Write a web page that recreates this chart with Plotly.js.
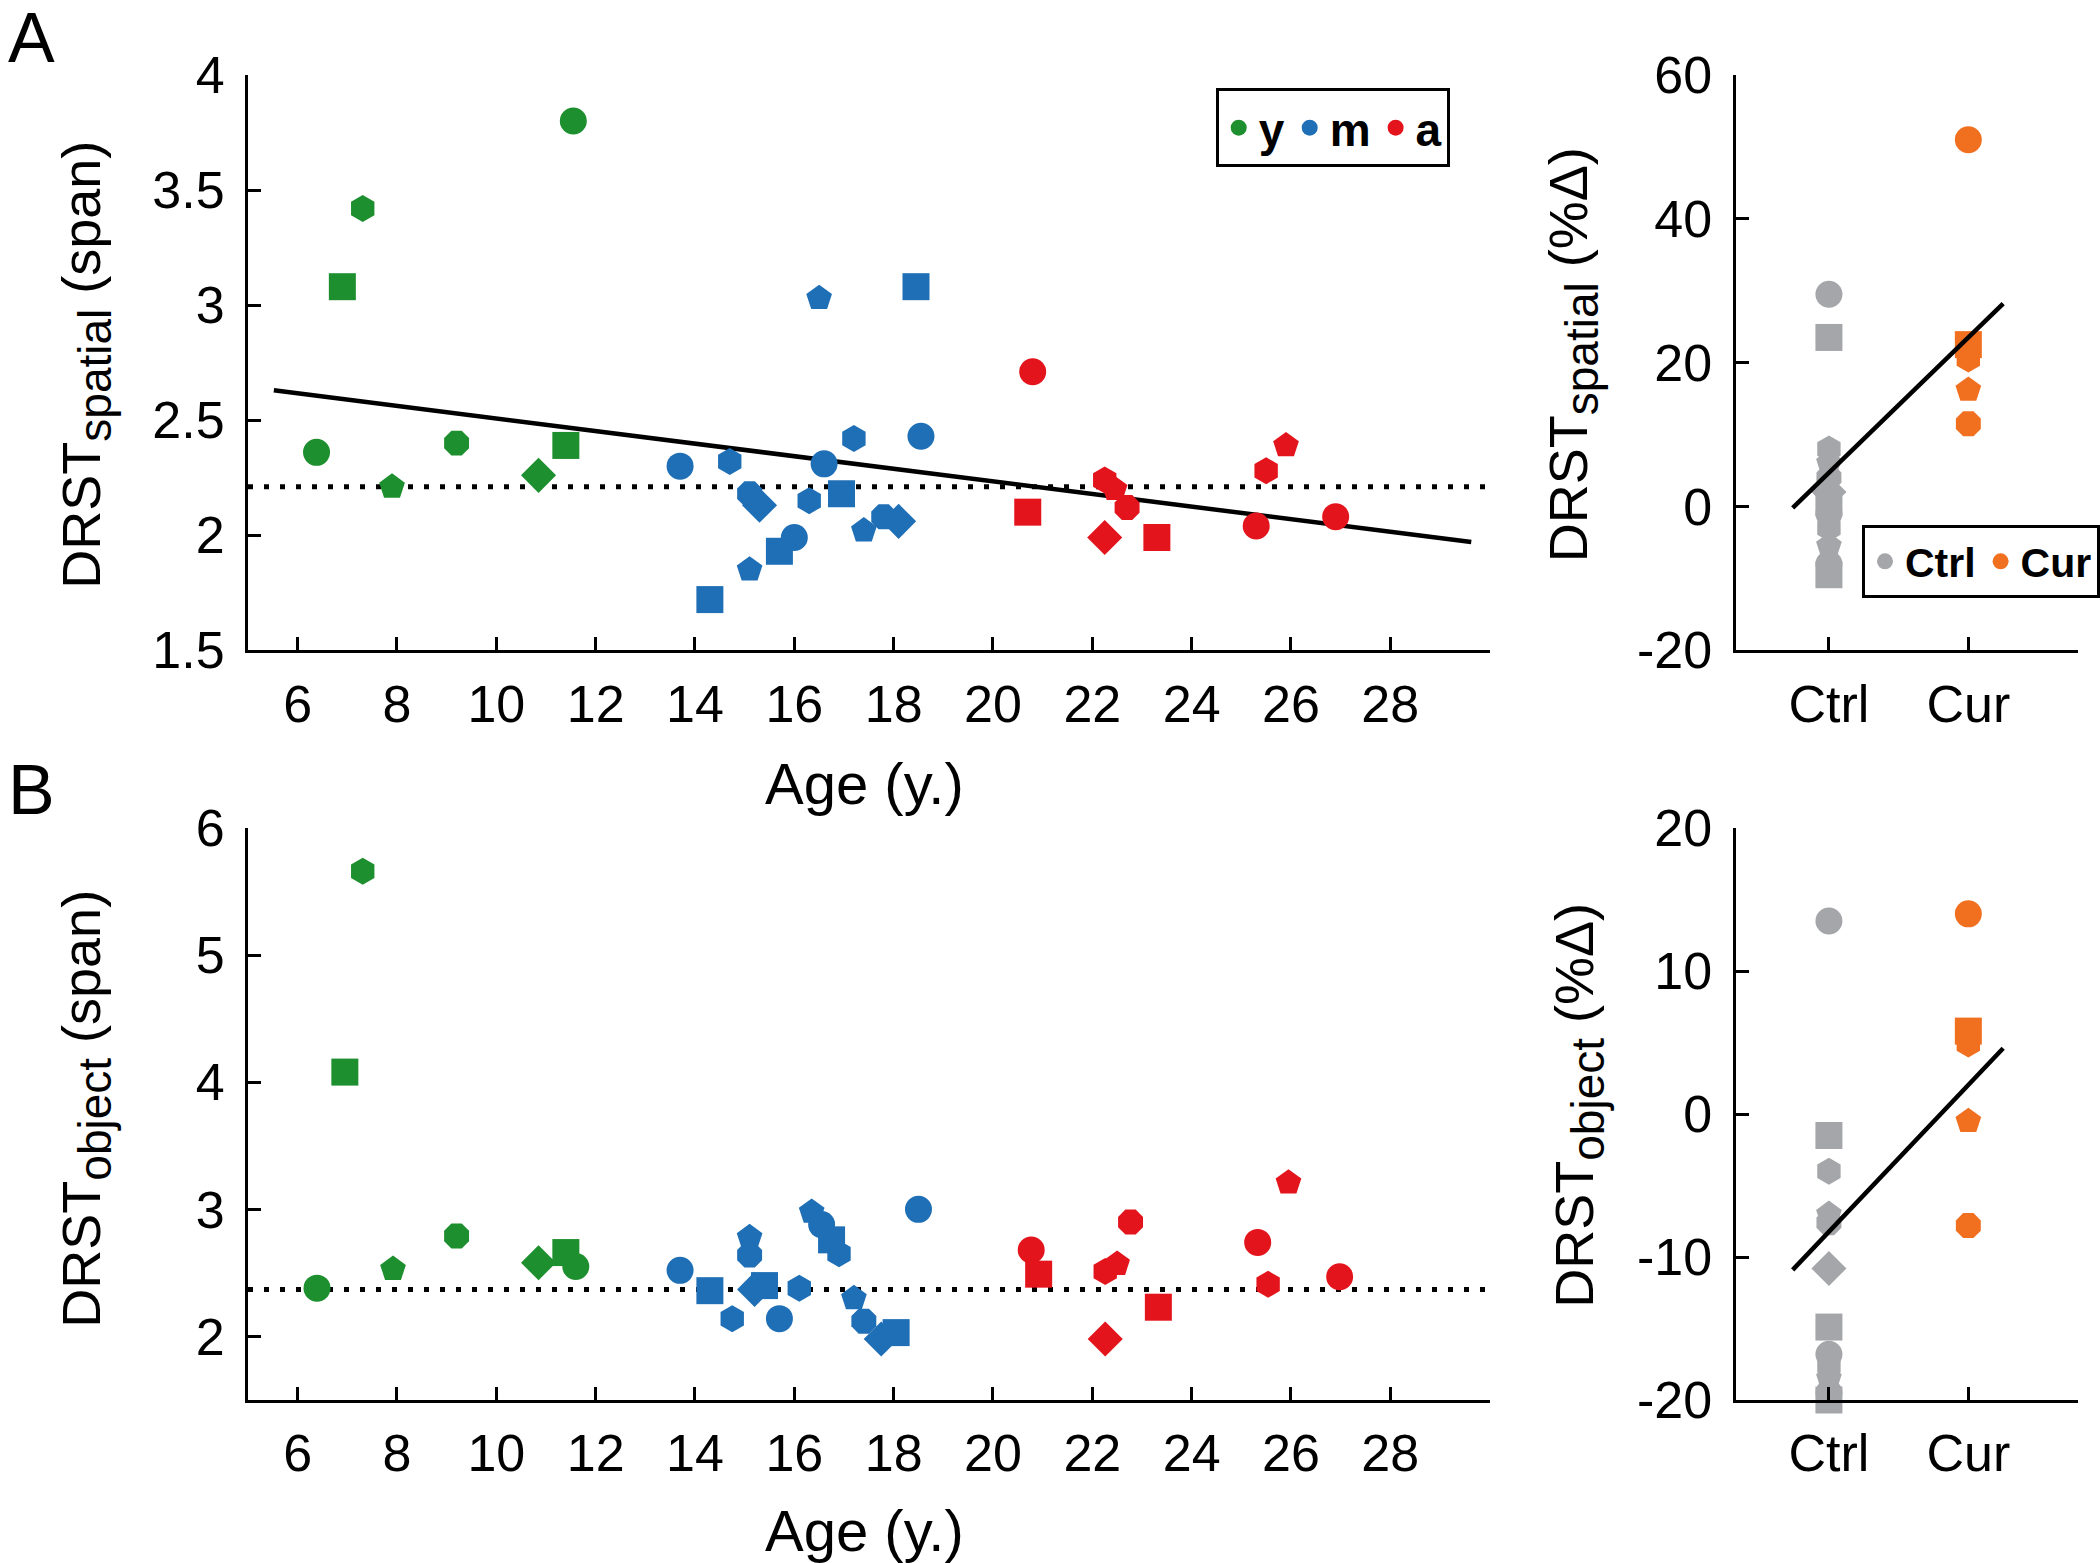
<!DOCTYPE html>
<html>
<head>
<meta charset="utf-8">
<script src="https://cdn.plot.ly/plotly-3.0.1.min.js"></script>
<style>
  html, body { margin: 0; padding: 0; background: #fff; }
  #chart { width: 2100px; height: 1563px; }
</style>
</head>
<body>
<div id="chart"></div>
<script>
// ---- data ----
// panel A, DRST spatial span vs age
const youngAgeA = [6.38, 6.9, 7.31, 7.9, 9.2, 10.85, 11.4, 11.55];
const youngSpatial = [2.36, 3.08, 3.42, 2.21, 2.40, 2.26, 2.39, 3.80];
const midAgeA = [13.7, 14.3, 14.7, 15.1, 15.1, 15.3, 15.7, 16.0, 16.3, 16.5, 16.6, 16.95, 17.2, 17.4, 17.8, 18.1, 18.45, 18.55];
const midSpatial = [2.30, 1.72, 2.32, 1.85, 2.18, 2.13, 1.93, 1.99, 2.15, 3.03, 2.31, 2.18, 2.42, 2.02, 2.08, 2.06, 3.08, 2.43];
const adultAgeA = [20.8, 20.7, 22.25, 22.45, 22.7, 22.25, 23.3, 25.3, 25.5, 25.9, 26.9];
const adultSpatial = [2.71, 2.10, 2.24, 2.20, 2.12, 1.99, 1.99, 2.04, 2.28, 2.39, 2.08];
const spatialFitX = [5.52, 29.63];
const spatialFitY = [2.63, 1.97];
const spatialRef = 2.21;

// panel B, DRST object span vs age
const youngAgeB = [6.39, 6.95, 7.31, 7.92, 9.2, 10.85, 11.4, 11.6];
const youngObject = [2.38, 4.08, 5.66, 2.53, 2.79, 2.58, 2.66, 2.55];
const midAgeB = [13.7, 14.3, 14.75, 15.1, 15.1, 15.2, 15.4, 15.7, 16.1, 16.35, 16.55, 16.75, 16.9, 17.2, 17.4, 17.75, 18.05, 18.5];
const midObject = [2.52, 2.36, 2.14, 2.78, 2.64, 2.37, 2.40, 2.14, 2.38, 2.98, 2.88, 2.76, 2.65, 2.30, 2.12, 1.98, 2.03, 3.00];
const adultAgeB = [20.77, 20.92, 22.26, 22.5, 22.77, 22.26, 23.33, 25.33, 25.54, 25.95, 26.98];
const adultObject = [2.68, 2.49, 2.51, 2.57, 2.90, 1.98, 2.23, 2.74, 2.41, 3.21, 2.47];
const objectRef = 2.37;

// side panels, % change
const ctrlSpatial = [29.5, 23.5, 8, 6, 4, 2, 0.5, -1, -3, -5.5, -8, -9.5];
const curSpatial = [51, 22.5, 20.5, 16.2, 11.5];
const ctrlObject = [13.5, -1.5, -4, -7, -7.6, -10.8, -14.9, -16.8, -17.6, -18.5, -19.5, -20];
const curObject = [14, 5.8, 4.9, -0.5, -7.8];
const groupFitX = [0.74, 2.25];
const spatialGroupFitY = [-0.2, 28.2];
const objectGroupFitY = [-10.9, 4.6];

const groupPos = [1, 2];
const groupLabels = ['Ctrl', 'Cur'];
const ageTicks = [6, 8, 10, 12, 14, 16, 18, 20, 22, 24, 26, 28];
const spatialTicks = [1.5, 2, 2.5, 3, 3.5, 4];
const objectTicks = [2, 3, 4, 5, 6];
const spatialPctTicks = [-20, 0, 20, 40, 60];
const objectPctTicks = [-20, -10, 0, 10, 20];

// ---- style ----
const FONT = 'Liberation Sans, Arial, sans-serif';
const GREEN = '#1d8f2e';
const BLUE = '#1f6fb6';
const RED = '#e3141c';
const GRAY = '#a5a6a9';
const ORANGE = '#f07020';
const SYMBOLS = ['circle', 'square', 'hexagon', 'pentagon', 'octagon', 'diamond', 'square', 'circle', 'hexagon', 'pentagon'];

function symbolsFor(n) {
	const out = [];
	for (let i = 0; i < n; i++) out.push(SYMBOLS[i % SYMBOLS.length]);
	return out;
}

function dots(x, y, color, name, xa, ya, legend, show) {
	return {
		x: x, y: y, type: 'scatter', mode: 'markers', name: name,
		xaxis: xa, yaxis: ya, legend: legend, showlegend: show, cliponaxis: false,
		marker: { color: color, size: 27, symbol: symbolsFor(y.length), line: { width: 0 } },
		hoverinfo: 'skip'
	};
}

function line(x, y, xa, ya, dash, width) {
	return {
		x: x, y: y, type: 'scatter', mode: 'lines', showlegend: false,
		xaxis: xa, yaxis: ya, cliponaxis: false, hoverinfo: 'skip',
		line: { color: '#000', width: width, dash: dash }
	};
}

const same = (arr, v) => arr.map(() => v);

const data = [
	line([5, 30], [spatialRef, spatialRef], 'x', 'y', '5px,11px', 5),
	line(spatialFitX, spatialFitY, 'x', 'y', 'solid', 4.5),
	dots(youngAgeA, youngSpatial, GREEN, 'y', 'x', 'y', 'legend', true),
	dots(midAgeA, midSpatial, BLUE, 'm', 'x', 'y', 'legend', true),
	dots(adultAgeA, adultSpatial, RED, 'a', 'x', 'y', 'legend', true),

	dots(same(ctrlSpatial, groupPos[0]), ctrlSpatial, GRAY, 'Ctrl', 'x2', 'y2', 'legend2', true),
	dots(same(curSpatial, groupPos[1]), curSpatial, ORANGE, 'Cur', 'x2', 'y2', 'legend2', true),
	line(groupFitX, spatialGroupFitY, 'x2', 'y2', 'solid', 4.5),

	line([5, 30], [objectRef, objectRef], 'x3', 'y3', '5px,11px', 5),
	dots(youngAgeB, youngObject, GREEN, 'y', 'x3', 'y3', 'legend', false),
	dots(midAgeB, midObject, BLUE, 'm', 'x3', 'y3', 'legend', false),
	dots(adultAgeB, adultObject, RED, 'a', 'x3', 'y3', 'legend', false),

	dots(same(ctrlObject, groupPos[0]), ctrlObject, GRAY, 'Ctrl', 'x4', 'y4', 'legend2', false),
	dots(same(curObject, groupPos[1]), curObject, ORANGE, 'Cur', 'x4', 'y4', 'legend2', false),
	line(groupFitX, objectGroupFitY, 'x4', 'y4', 'solid', 4.5)
];

const axisBase = {
	showline: true, linecolor: '#000', linewidth: 3,
	ticks: 'inside', ticklen: 13, tickwidth: 3, tickcolor: '#000',
	showgrid: false, zeroline: false, fixedrange: true,
	tickfont: { family: FONT, size: 52, color: '#000' }
};

const LEFT_X = [0.1186, 0.7124];
const RIGHT_X = [0.830, 0.994];
const TOP_Y = [0.584, 0.952];
const BOT_Y = [0.1043, 0.4702];

// axis titles as annotations so both rows line up
function yTitle(main, subText, unit, x, y) {
	return {
		text: main + '<sub><span style="font-size:46px">' + subText + '</span></sub> ' + unit,
		xref: 'paper', yref: 'paper', x: x, y: y, xanchor: 'center', yanchor: 'middle',
		textangle: -90, showarrow: false, font: { family: FONT, size: 54, color: '#000' }
	};
}
function xTitle(y) {
	return {
		text: 'Age (y.)', xref: 'paper', yref: 'paper', x: 0.4133, y: y,
		xanchor: 'center', yanchor: 'middle', showarrow: false,
		font: { family: FONT, size: 58, color: '#000' }
	};
}
function panelLabel(t, y) {
	return {
		text: t, xref: 'paper', yref: 'paper', x: 0.003, y: y, xanchor: 'left', yanchor: 'top',
		showarrow: false, font: { family: FONT, size: 70, color: '#000' }
	};
}

const layout = {
	width: 2100, height: 1563,
	margin: { l: 0, r: 0, t: 0, b: 0 },
	paper_bgcolor: '#fff', plot_bgcolor: '#fff',
	font: { family: FONT, color: '#000' },
	xaxis: Object.assign({}, axisBase, {
		domain: LEFT_X, anchor: 'y', range: [5, 30], tickvals: ageTicks, ticklabelstandoff: 6
	}),
	yaxis: Object.assign({}, axisBase, {
		domain: TOP_Y, anchor: 'x', range: [1.5, 4], tickvals: spatialTicks,
		ticktext: spatialTicks.map(String), ticklabelstandoff: 10
	}),
	xaxis2: Object.assign({}, axisBase, {
		domain: RIGHT_X, anchor: 'y2', range: [0.33, 2.79], tickvals: groupPos, ticktext: groupLabels,
		ticklabelstandoff: 6
	}),
	yaxis2: Object.assign({}, axisBase, {
		domain: TOP_Y, anchor: 'x2', range: [-20, 60], tickvals: spatialPctTicks,
		ticktext: spatialPctTicks.map(String), ticklabelstandoff: 10
	}),
	xaxis3: Object.assign({}, axisBase, {
		domain: LEFT_X, anchor: 'y3', range: [5, 30], tickvals: ageTicks, ticklabelstandoff: 6
	}),
	yaxis3: Object.assign({}, axisBase, {
		domain: BOT_Y, anchor: 'x3', range: [1.5, 6], tickvals: objectTicks,
		ticktext: objectTicks.map(String), ticklabelstandoff: 10
	}),
	xaxis4: Object.assign({}, axisBase, {
		domain: RIGHT_X, anchor: 'y4', range: [0.33, 2.79], tickvals: groupPos, ticktext: groupLabels,
		ticklabelstandoff: 6
	}),
	yaxis4: Object.assign({}, axisBase, {
		domain: BOT_Y, anchor: 'x4', range: [-20, 20], tickvals: objectPctTicks,
		ticktext: objectPctTicks.map(String), ticklabelstandoff: 10
	}),
	legend: {
		orientation: 'h', x: 0.5814, y: 0.9435, xanchor: 'left', yanchor: 'top',
		bordercolor: '#000', borderwidth: 3, bgcolor: '#fff',
		font: { family: FONT, size: 46, color: '#000', weight: 700 }, itemwidth: 30
	},
	legend2: {
		orientation: 'h', x: 0.8905, y: 0.664, xanchor: 'left', yanchor: 'top',
		bordercolor: '#000', borderwidth: 3, bgcolor: '#fff',
		font: { family: FONT, size: 41, color: '#000', weight: 700 }, itemwidth: 30
	},
	annotations: [
		panelLabel('A', 1.002),
		panelLabel('B', 0.521),
		yTitle('DRST', 'spatial', '(span)', 0.041, 0.7665),
		yTitle('DRST', 'spatial', '(%Δ)', 0.752, 0.773),
		yTitle('DRST', 'object', '(span)', 0.041, 0.2905),
		yTitle('DRST', 'object', '(%Δ)', 0.755, 0.293),
		xTitle(0.499),
		xTitle(0.0205)
	]
};

Plotly.newPlot('chart', data, layout, { displayModeBar: false, staticPlot: true });
</script>
</body>
</html>
